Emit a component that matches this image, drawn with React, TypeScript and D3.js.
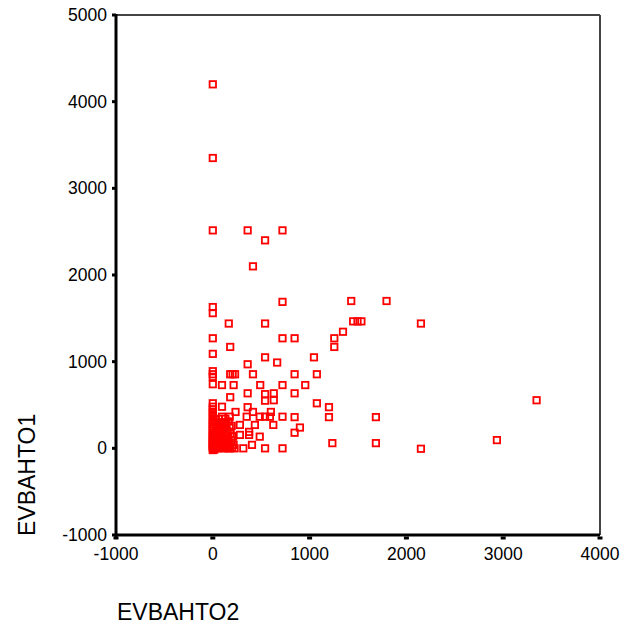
import React, { useEffect, useRef } from 'react';
import * as d3 from 'd3';

const xTicks = [-1000, 0, 1000, 2000, 3000, 4000];
const yTicks = [-1000, 0, 1000, 2000, 3000, 4000, 5000];

// EVBAHTO2 (x) / EVBAHTO1 (y)
const evbahto2 = [
  0, 0, 0, 360, 720, 540, 415,
  0, 0, 720, 165, 540, 1430, 1795,
  1450, 1495, 1535, 2150, 1345, 1255, 1255,
  0, 720, 845, 180, 0, 540, 665, 1045, 360,
  0, 0, 0, 180, 205, 230, 415, 845, 1075,
  0, 95, 215, 490, 720, 955,
  360, 540, 630, 845, 180,
  630, 540, 1075, 1200, 1200, 1685, 3345,
  900, 845, 1235, 1685, 2150, 2935, 720, 540, 315, 405,
  0, 95, 360,
  235, 415, 600, 175, 350, 485, 540, 590, 720, 95, 845,
  625, 435, 280, 70, 375, 375, 485, 280, 210,
  0, 0, 0, 0, 0, 0, 0, 0, 0, 0, 0, 0, 0, 0, 0, 0, 0, 0, 0, 0, 0, 0,
  20, 40, 60, 85, 110, 130, 155, 180, 200, 225,
  25, 50, 75, 100, 120, 145, 170, 195, 215,
  30, 55, 80, 105, 130, 160, 185, 205,
  20, 45, 70, 95, 120, 150, 175,
  35, 60, 90, 115, 140, 165, 195,
  30, 60, 10, 130,
  15, 45, 70, 110, 140, 175, 20, 65, 90, 150,
];
const evbahto1 = [
  4200, 3350, 2515, 2515, 2515, 2400, 2100,
  1630, 1560, 1690, 1440, 1440, 1700, 1700,
  1465, 1465, 1465, 1440, 1345, 1270, 1170,
  1270, 1270, 1270, 1170, 1090, 1050, 990, 1050, 970,
  890, 855, 825, 855, 855, 855, 855, 855, 855,
  740, 730, 730, 730, 730, 730,
  635, 625, 635, 635, 590,
  555, 550, 520, 475, 360, 360, 555,
  240, 180, 60, 60, -5, 95, 0, 0, 0, 40,
  480, 480, 475,
  420, 420, 420, 365, 365, 365, 365, 365, 365, 365, 360,
  270, 270, 270, 250, 190, 155, 135, 155, 135,
  0, 15, 30, 50, 70, 90, 110, 130, 150, 175, 200, 225, 250, 280, 300, 330, 360, 390, 420, 450, 520, -20,
  0, 10, 0, 5, 0, 10, 0, 0, 5, 0,
  40, 60, 30, 50, 80, 40, 60, 90, 40,
  100, 120, 140, 110, 150, 120, 170, 140,
  180, 200, 170, 210, 230, 200, 240,
  260, 290, 270, 300, 280, 310, 260,
  330, 340, 310, 340,
  -15, 20, 85, 25, 65, 20, 150, 220, 300, 100,
];

const font = '"Liberation Sans", Arial, Helvetica, sans-serif';

const App = () => {
  const ref = useRef<SVGSVGElement>(null);

  useEffect(() => {
    if (!ref.current) return;
    const svg = d3.select(ref.current);
    svg.selectAll('*').remove();

    const x = d3.scaleLinear().domain([-1000, 4000]).range([116, 600]);
    const y = d3.scaleLinear().domain([-1000, 5000]).range([535, 15]);

    // frame: thin top/right, heavy left/bottom
    svg.append('line')
      .attr('x1', 116).attr('x2', 600).attr('y1', 15).attr('y2', 15)
      .attr('stroke', '#444').attr('stroke-width', 2);
    svg.append('line')
      .attr('x1', 600).attr('x2', 600).attr('y1', 15).attr('y2', 535)
      .attr('stroke', '#444').attr('stroke-width', 2);

    // points
    const pts = evbahto2.map((v, i) => [v, evbahto1[i]]);
    svg.append('g')
      .selectAll('rect')
      .data(pts)
      .enter()
      .append('rect')
      .attr('x', d => x(d[0]) - 3.2)
      .attr('y', d => y(d[1]) - 3.2)
      .attr('width', 6.4)
      .attr('height', 6.4)
      .attr('fill', 'none')
      .attr('stroke', '#ff0000')
      .attr('stroke-width', 1.8);

    svg.append('line')
      .attr('x1', 116).attr('x2', 116).attr('y1', 14).attr('y2', 537)
      .attr('stroke', '#000').attr('stroke-width', 3);
    svg.append('line')
      .attr('x1', 115).attr('x2', 600).attr('y1', 535).attr('y2', 535)
      .attr('stroke', '#000').attr('stroke-width', 3);

    // y ticks
    const yg = svg.append('g');
    yg.selectAll('rect')
      .data(yTicks)
      .enter()
      .append('rect')
      .attr('x', 112)
      .attr('y', d => y(d) - 1.5)
      .attr('width', 4)
      .attr('height', 3)
      .attr('fill', '#000');
    yg.selectAll('text')
      .data(yTicks)
      .enter()
      .append('text')
      .attr('x', 107)
      .attr('y', d => y(d) + 6)
      .attr('text-anchor', 'end')
      .style('font-family', font)
      .style('font-size', '17.5px')
      .text(d => d);

    // x ticks
    const xg = svg.append('g');
    xg.selectAll('rect')
      .data(xTicks)
      .enter()
      .append('rect')
      .attr('x', d => x(d) - 2.5)
      .attr('y', 536.5)
      .attr('width', 5)
      .attr('height', 3)
      .attr('fill', '#000');
    xg.selectAll('text')
      .data(xTicks)
      .enter()
      .append('text')
      .attr('x', d => x(d))
      .attr('y', 560)
      .attr('text-anchor', 'middle')
      .style('font-family', font)
      .style('font-size', '17.5px')
      .text(d => d);

    // axis titles
    svg.append('text')
      .attr('transform', 'translate(35,536) rotate(-90)')
      .attr('text-anchor', 'start')
      .style('font-family', font)
      .style('font-size', '23px')
      .text('EVBAHTO1');
    svg.append('text')
      .attr('x', 117)
      .attr('y', 620)
      .style('font-family', font)
      .style('font-size', '23px')
      .text('EVBAHTO2');
  }, []);

  return (
    <svg
      ref={ref}
      width={621}
      height={625}
      style={{ position: 'absolute', left: 0, top: 0, background: '#fff' }}
    />
  );
};

export default App;
